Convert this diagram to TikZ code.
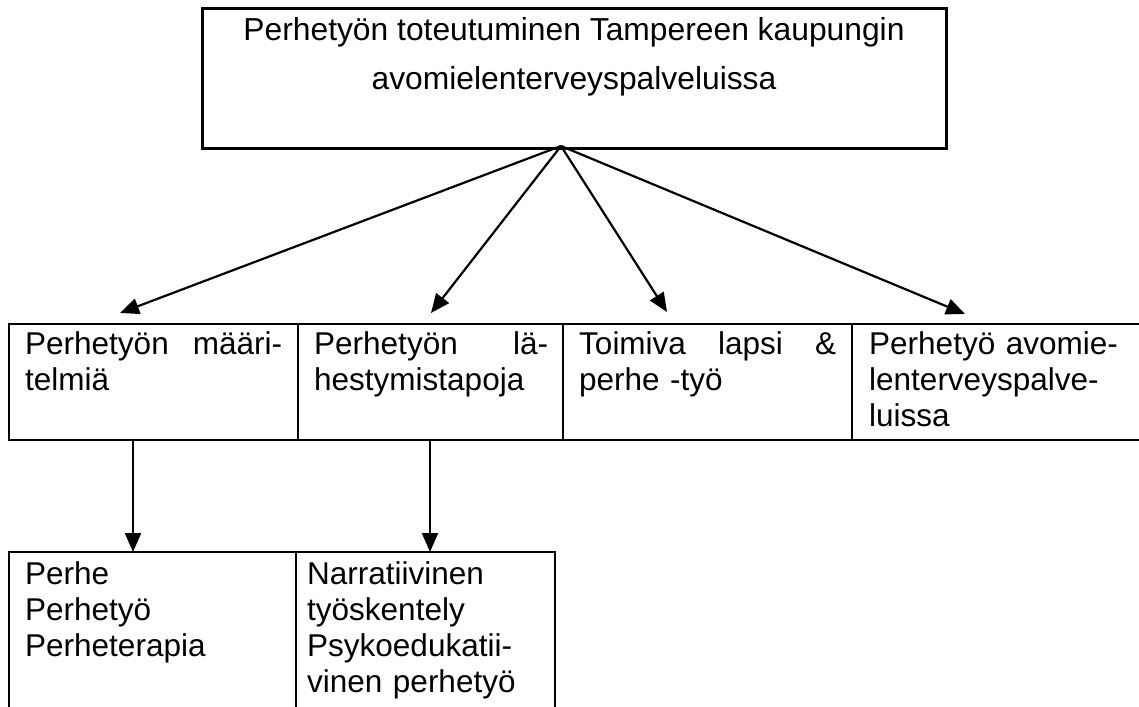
\documentclass[tikz,border=0pt]{standalone}
\usepackage{fontspec}
\setmainfont{Liberation Sans}
\usetikzlibrary{arrows.meta,calc}
\begin{document}
\begin{tikzpicture}[x=1pt,y=-1pt,
  box/.style={draw, line width=2.2pt, inner sep=0pt, outer sep=0pt},
  topbox/.style={box, line width=3pt},
  txt/.style={inner sep=0pt, align=left, font=\fontsize{31.5}{36}\selectfont},
  ttl/.style={inner sep=0pt, align=center, font=\fontsize{31.8}{49}\selectfont},
  arr/.style={line width=2.2pt, -{Triangle[length=19pt,width=16pt]}}]
\clip (0,0) rectangle (1139,706);
\fill[white] (0,0) rectangle (1139,706);
% boxes
\node[topbox, minimum width=744pt, minimum height=139pt] (top) at (574,78.5) {};
\node[box, minimum width=289pt, minimum height=116pt] (m1) at (153.5,382) {};
\node[box, minimum width=265pt, minimum height=116pt] (m2) at (430.5,382) {};
\node[box, minimum width=289pt, minimum height=116pt] (m3) at (707.5,382) {};
\node[box, minimum width=293pt, minimum height=116pt] (m4) at (998.5,382) {};
\node[box, minimum width=287pt, minimum height=168pt] (b1) at (152.5,636) {};
\node[box, minimum width=259pt, minimum height=168pt] (b2) at (425.5,636) {};
% texts
\node[ttl, anchor=base] (toptxt) at (574,90) {Perhetyön toteutuminen Tampereen kaupungin\\avomielenterveyspalveluissa};
\node[txt, text width=257pt, anchor=base west] (m1t) at (25,354) {Perhetyön\hfill määri-\\telmiä};
\node[txt, text width=234pt, anchor=base west] (m2t) at (314,354) {Perhetyön\hfill lä-\\hestymistapoja};
\node[txt, text width=257pt, anchor=base west] (m3t) at (579,354) {Toimiva\hfill lapsi\hfill \&\\perhe -työ};
\node[txt, text width=257pt, anchor=base west] (m4t) at (869,354) {Perhetyö avomie-\\lenterveyspalve-\\luissa};
\node[txt, text width=257pt, anchor=base west] (b1t) at (25,584) {Perhe\\Perhetyö\\Perheterapia};
\node[txt, text width=240pt, anchor=base west] (b2t) at (307,584) {Narratiivinen\\työskentely\\Psykoedukatii-\\vinen perhetyö};
% connector points
\coordinate (apex) at (561,146);
\coordinate (t1) at (120,313);
\coordinate (t2) at (431,313);
\coordinate (t3) at (667,312);
\coordinate (t4) at (965,314);
\coordinate (xa) at (133,0);
\coordinate (xb) at (430,0);
% arrows
\draw[arr] (apex) -- (t1);
\draw[arr] (apex) -- (t2);
\draw[arr] (apex) -- (t3);
\draw[arr] (apex) -- (t4);
\draw[arr] (m1.south -| xa) -- (b1.north -| xa);
\draw[arr] (m2.south -| xb) -- (b2.north -| xb);
\end{tikzpicture}
\end{document}
